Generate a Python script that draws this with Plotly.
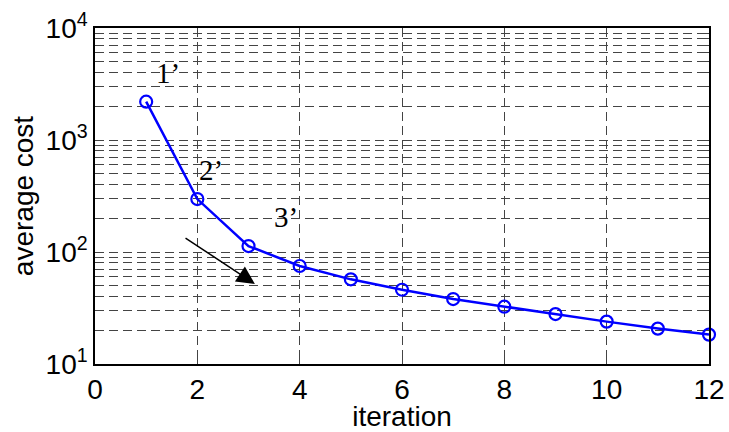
import plotly.graph_objects as go
import math

iterations = [1, 2, 3, 4, 5, 6, 7, 8, 9, 10, 11, 12]
avg_cost = [2200, 297, 113, 75, 57, 46, 38, 32.5, 27.9, 23.9, 20.7, 18.3]

y_tickvals = [10, 100, 1000, 10000]
y_ticktext = ["10<sup>1</sup>", "10<sup>2</sup>", "10<sup>3</sup>", "10<sup>4</sup>"]
x_tickvals = [0, 2, 4, 6, 8, 10, 12]

labels = ["1’", "2’", "3’"]
label_x = [1.43, 2.27, 3.73]
label_y = [3.60, 2.73, 2.31]

arrow_start = (1.74, 136)
arrow_end = (3.125, 51.8)

fig = go.Figure()
fig.add_trace(go.Scatter(
    x=iterations, y=avg_cost, mode="lines+markers",
    line=dict(color="#0000ff", width=2.5),
    marker=dict(symbol="circle-open", size=12, color="#0000ff", line=dict(width=2.2)),
    showlegend=False, cliponaxis=False,
))

for t, xx, yy in zip(labels, label_x, label_y):
    fig.add_annotation(x=xx, y=yy, text=t, showarrow=False,
                       font=dict(family="Liberation Serif, Times New Roman, serif", size=29, color="black"))

fig.add_annotation(x=arrow_end[0], y=math.log10(arrow_end[1]),
                   ax=arrow_start[0], ay=math.log10(arrow_start[1]),
                   xref="x", yref="y", axref="x", ayref="y",
                   showarrow=True, arrowhead=2, arrowsize=2.4, arrowwidth=1.5,
                   arrowcolor="black", text="")

axis_font = dict(family="Liberation Sans, Arial, sans-serif", size=28, color="black")
grid_dash = "9px,5px"

fig.update_layout(
    width=729, height=432,
    margin=dict(l=95, r=20, t=28, b=68, autoexpand=False),
    plot_bgcolor="white", paper_bgcolor="white",
    font=axis_font,
    xaxis=dict(
        range=[0, 12], tickvals=x_tickvals, ticks="inside", ticklen=6,
        showline=True, linecolor="black", linewidth=1.5, mirror="ticks",
        showgrid=True, gridcolor="#444444", griddash=grid_dash, gridwidth=1,
        zeroline=False, tickfont=axis_font, automargin=False,
        title=dict(text="iteration", font=axis_font, standoff=2),
    ),
    yaxis=dict(
        type="log", range=[1, 4], tickvals=y_tickvals, ticktext=y_ticktext,
        ticks="inside", ticklen=6,
        showline=True, linecolor="black", linewidth=1.5, mirror="ticks",
        showgrid=True, gridcolor="#444444", griddash=grid_dash, gridwidth=1,
        zeroline=False, tickfont=axis_font, automargin=False,
        minor=dict(dtick="D1", showgrid=True, gridcolor="#444444", griddash=grid_dash,
                   gridwidth=1, ticks="inside", ticklen=3),
        title=dict(text="average cost", font=axis_font, standoff=4),
    ),
)

fig.write_html("out.html")
